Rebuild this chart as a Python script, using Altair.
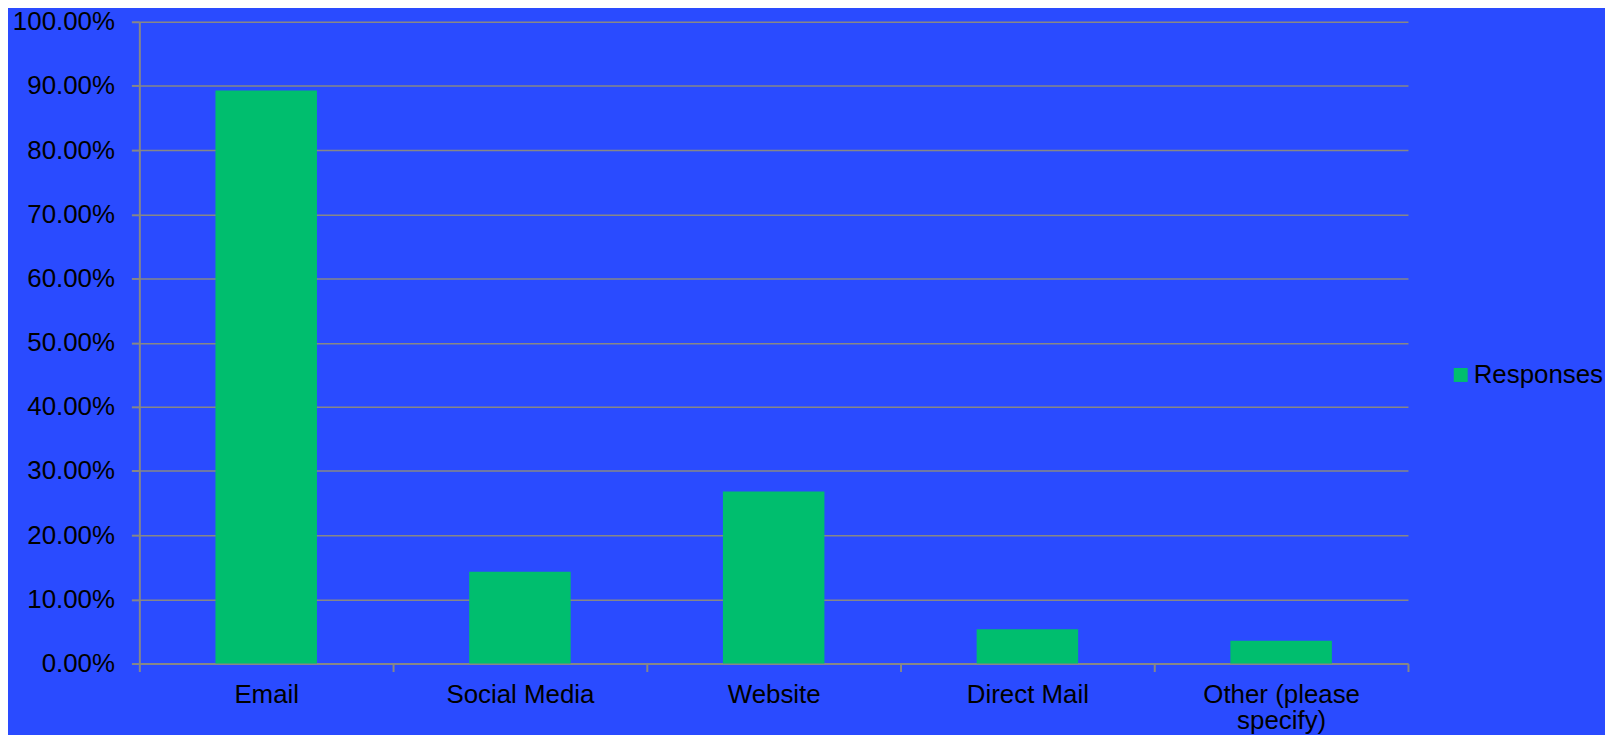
import altair as alt
import pandas as pd

categories = ["Email", "Social Media", "Website", "Direct Mail", "Other (please specify)"]
values = [0.8929, 0.1429, 0.2679, 0.0536, 0.0357]
series = ["Responses"] * len(categories)
y_ticks = [i / 10 for i in range(11)]

df = pd.DataFrame({"category": categories, "value": values, "series": series})

BG = "#2A4BFF"
GREEN = "#00BE6E"
GRAY = "#878787"
FONT = "Liberation Sans"

chart = alt.Chart(df).mark_bar(color=GREEN, width=alt.RelativeBandSize(0.4)).encode(
    x=alt.X(
        "category:N",
        sort=categories,
        title=None,
        scale=alt.Scale(paddingInner=0, paddingOuter=0),
        axis=alt.Axis(
            labelAngle=0,
            labelFont=FONT,
            labelFontSize=26,
            labelColor="#000000",
            labelPadding=10,
            labelLineHeight=26,
            labelExpr="datum.label == 'Other (please specify)' ? ['Other (please', 'specify)'] : datum.label",
            tickBand="extent",
            tickSize=8,
            tickColor=GRAY,
            tickWidth=2,
            domainColor=GRAY,
            domainWidth=2,
            grid=False,
        ),
    ),
    y=alt.Y(
        "value:Q",
        title=None,
        scale=alt.Scale(domain=[0, 1], nice=False),
        axis=alt.Axis(
            values=y_ticks,
            format=".2%",
            labelFont=FONT,
            labelFontSize=26,
            labelColor="#000000",
            labelPadding=17,
            tickSize=8,
            tickColor=GRAY,
            tickWidth=2,
            domainColor=GRAY,
            domainWidth=2,
            grid=True,
            gridColor=GRAY,
            gridWidth=1.5,
        ),
    ),
    color=alt.Color(
        "series:N",
        scale=alt.Scale(range=[GREEN]),
        legend=alt.Legend(
            title=None,
            orient="none",
            legendX=1315,
            legendY=342,
            symbolType="square",
            symbolSize=196,
            symbolStrokeWidth=0,
            symbolOpacity=1,
            labelFont=FONT,
            labelFontSize=26,
            labelColor="#000000",
            labelOffset=0,
        ),
    ),
).properties(
    width=1275,
    height=645,
    background=BG,
    autosize=alt.AutoSizeParams(type="none"),
    padding={"left": 132, "top": 12, "right": 198, "bottom": 70},
).configure_view(stroke=None)

chart.save("out.html", embed_options={"renderer": "svg", "actions": False})
